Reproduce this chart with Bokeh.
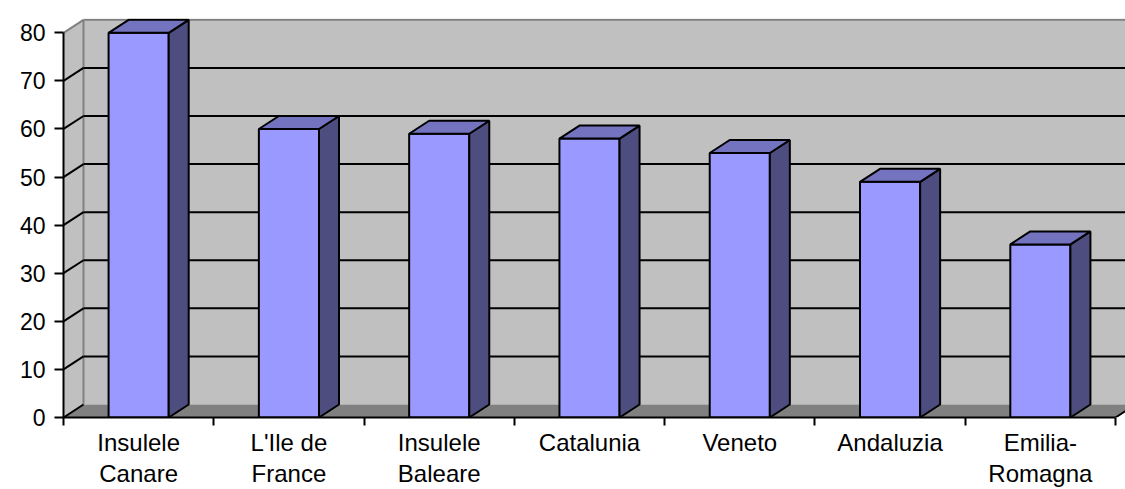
from bokeh.plotting import figure
from bokeh.models import FixedTicker, Range1d
from bokeh.embed import file_html
from bokeh.resources import INLINE

# ---- data ----
categories = ["Insulele Canare", "L'Ile de France", "Insulele Baleare", "Catalunia",
              "Veneto", "Andaluzia", "Emilia-Romagna"]
tick_labels = ["Insulele\nCanare", "L'Ile de\nFrance", "Insulele\nBaleare", "Catalunia",
               "Veneto", "Andaluzia", "Emilia-\nRomagna"]
values = [80, 60, 59, 58, 55, 49, 36]
y_ticks = [0, 10, 20, 30, 40, 50, 60, 70, 80]

# ---- layout ----
FW, FH = 1062, 399          # frame size in px
n = len(categories)
px_x = 1052 / n             # px per category
y_top = y_ticks[-1]
px_y = 384.7 / y_top        # px per value unit
x_end = FW / px_x
y_end = FH / px_y
DX = 20 / px_x              # 3D depth in data units
DY = 13 / px_y

WALL = "#c0c0c0"
FLOOR = "#808080"
EDGE = "#808080"
FRONT = "#9999ff"
SIDE = "#4d4d80"
TOP = "#7373bf"

p = figure(frame_width=FW, frame_height=FH,
           x_range=Range1d(0, x_end), y_range=Range1d(0, y_end),
           output_backend="svg", toolbar_location=None,
           min_border_left=63, min_border_right=0, min_border_top=18, min_border_bottom=10)
p.outline_line_color = None
p.xgrid.visible = False
p.ygrid.visible = False

# back wall
p.patch([DX, x_end + 1, x_end + 1, DX], [DY, DY, y_top + DY, y_top + DY],
        fill_color=WALL, line_color=None)
# left wall
p.patch([0, DX, DX, 0], [0, DY, y_top + DY, y_top], fill_color=WALL, line_color=None)
# floor
p.patch([0, n, n + DX, DX], [0, 0, DY, DY], fill_color=FLOOR, line_color=None)
p.segment([n], [0], [n + DX], [DY], line_color="black", line_width=2)

# wall edges (grey)
p.segment([0, DX, DX], [y_top, DY, y_top + DY], [DX, DX, x_end + 1],
          [y_top + DY, y_top + DY, y_top + DY], line_color=EDGE, line_width=2)

# gridlines on back wall and left wall
gv = [v for v in y_ticks if 0 < v < y_top]
p.segment([DX] * len(gv), [v + DY for v in gv], [x_end + 1] * len(gv), [v + DY for v in gv],
          line_color="black", line_width=2)
lv = [v for v in y_ticks if v < y_top]
p.segment([0] * len(lv), lv, [DX] * len(lv), [v + DY for v in lv],
          line_color="black", line_width=2)

# bars
L = [i + 0.3 for i in range(n)]
R = [i + 0.7 for i in range(n)]
p.quad(left=L, right=R, bottom=0, top=values, fill_color=FRONT, line_color="black", line_width=2)
side_xs = [[r, r + DX, r + DX, r] for r in R]
side_ys = [[0, DY, v + DY, v] for v in values]
p.patches(side_xs, side_ys, fill_color=SIDE, line_color="black", line_width=2)
top_xs = [[l, l + DX, r + DX, r] for l, r in zip(L, R)]
top_ys = [[v, v + DY, v + DY, v] for v in values]
p.patches(top_xs, top_ys, fill_color=TOP, line_color="black", line_width=2)

# y axis
ya = p.yaxis[0]
ya.ticker = FixedTicker(ticks=y_ticks, minor_ticks=[])
ya.bounds = (0, y_top)
ya.axis_line_color = "black"
ya.axis_line_width = 2
ya.major_tick_line_color = "black"
ya.major_tick_line_width = 2
ya.major_tick_out = 9
ya.major_tick_in = 0
ya.major_label_standoff = 9
ya.major_label_text_font = "Liberation Sans"
ya.major_label_text_font_size = "23px"
ya.major_label_text_color = "black"

# x axis
xa = p.xaxis[0]
centers = [i + 0.5 for i in range(n)]
xa.ticker = FixedTicker(ticks=centers, minor_ticks=list(range(n + 1)))
xa.bounds = (0, n)
xa.major_label_overrides = {c: t for c, t in zip(centers, tick_labels)}
xa.axis_line_color = "black"
xa.axis_line_width = 2
xa.major_tick_line_color = None
xa.major_tick_out = 8
xa.major_tick_in = 0
xa.minor_tick_line_color = "black"
xa.minor_tick_line_width = 2
xa.minor_tick_out = 8
xa.minor_tick_in = 0
xa.major_label_standoff = 3
xa.major_label_text_font = "Liberation Sans"
xa.major_label_text_font_size = "24px"
xa.major_label_text_line_height = 1.15
xa.major_label_text_color = "black"

open("out.html", "w").write(file_html(p, INLINE))
